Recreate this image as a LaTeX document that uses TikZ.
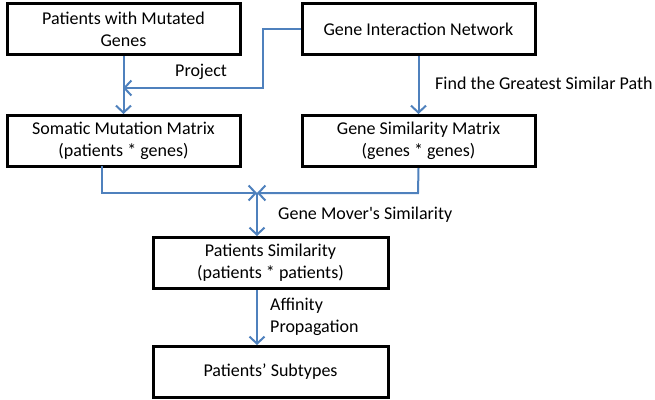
\documentclass[tikz,border=0pt]{standalone}
\usepackage{fontspec}
\setmainfont{Carlito}
\newfontfamily\plaincarlito{Carlito}
\usetikzlibrary{arrows.meta}
\definecolor{arrowblue}{HTML}{4F81BD}
\begin{document}
\begin{tikzpicture}[x=1pt,y=-1pt,
  box/.style={draw=black,line width=3pt,minimum width=233pt,minimum height=51pt,align=center,font=\fontsize{18}{22}\selectfont,inner sep=0pt},
  conn/.style={draw=arrowblue,line width=2pt},
  arr/.style={conn,-{Straight Barb[length=7pt,width=15pt,line width=2pt]}},
  lbl/.style={font=\fontsize{18}{22}\selectfont,align=left,inner sep=0pt}]
\useasboundingbox (0,0) rectangle (655,399);
\node[box] (pmg) at (123.5,29) {Patients with Mutated\\Genes};
\node[box] (gin) at (418.5,29) {Gene Interaction Network};
\node[box] (smm) at (123.5,141) {Somatic Mutation Matrix\\(patients * genes)};
\node[box] (gsm) at (418.5,141) {Gene Similarity Matrix\\(genes * genes)};
\node[box,minimum width=235pt] (ps) at (270.5,263) {Patients Similarity\\(patients * patients)};
\node[box,minimum width=235pt] (pst) at (270.5,372) {Patients’ Subtypes};
\coordinate (m) at (257,193);
\coordinate (pj) at (123,88);
\draw[arr] (pmg.south) -- (smm.north);
\draw[arr] (gin.west) -- (263,29) -- (263,88) -- (pj);
\node[lbl,anchor=west] (lproj) at (175,72) {Project};
\draw[arr] (gin.south) -- (gsm.north);
\node[lbl,anchor=west] (lfind) at (435,83) {Find the Greatest Similar Path};
\draw[arr] (102,166) -- (102,193) -- (m);
\draw[arr] (gsm.south) -- (418,193) -- (m);
\draw[arr] (m) -- (ps.north -| m);
\node[lbl,anchor=west] (lgms) at (278,215) {{\plaincarlito Gene Mover's Similarity}};
\draw[arr] (ps.south -| m) -- (pst.north -| m);
\node[lbl,anchor=west] (lap) at (270,317) {Affinity\\Propagation};
\end{tikzpicture}
\end{document}
